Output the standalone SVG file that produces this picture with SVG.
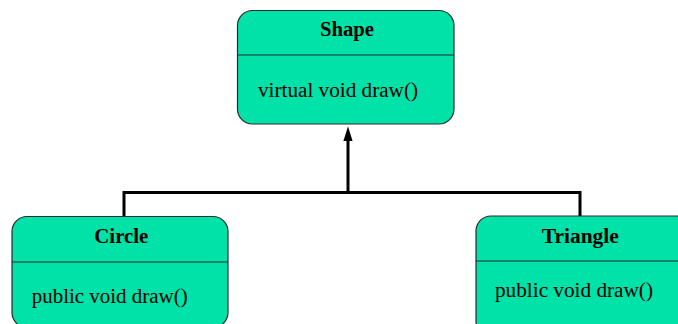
<svg xmlns="http://www.w3.org/2000/svg" width="678" height="324" viewBox="0 0 678 324">
  <style>
    .box { fill: #00e2a8; stroke: #2a2a2a; stroke-width: 1.2; }
    .div { stroke: #2a2a2a; stroke-width: 1.2; }
    .title { font-family: "Liberation Serif", "Times New Roman", serif; font-size: 20.5px; font-weight: bold; fill: #000; }
    .op { font-family: "Liberation Serif", "Times New Roman", serif; font-size: 20.5px; fill: #000; }
    .wire { fill: none; stroke: #000; stroke-width: 3; }
  </style>
  <rect width="678" height="324" fill="#fff"/>

  <!-- inheritance connectors -->
  <g id="connectors">
    <polyline class="wire" points="124,216 124,192.5 580,192.5 580,216"/>
    <line class="wire" x1="348" y1="192.5" x2="348" y2="140"/>
    <path d="M348,126.5 L352.6,141 L343.4,141 Z" fill="#000"/>
  </g>

  <g id="shape">
    <rect class="box" x="237.5" y="10.5" width="216.5" height="113.5" rx="15"/>
    <line class="div" x1="237.5" y1="55" x2="454" y2="55"/>
    <text class="title" x="347" y="35.5" text-anchor="middle" textLength="54" lengthAdjust="spacingAndGlyphs">Shape</text>
    <text class="op" x="258" y="97" textLength="160" lengthAdjust="spacingAndGlyphs">virtual void draw()</text>
  </g>

  <g id="circle">
    <rect class="box" x="12" y="216.5" width="216" height="111" rx="15"/>
    <line class="div" x1="12" y1="262" x2="228" y2="262"/>
    <text class="title" x="121.3" y="243" text-anchor="middle" textLength="54" lengthAdjust="spacingAndGlyphs">Circle</text>
    <text class="op" x="31.7" y="303" textLength="156" lengthAdjust="spacingAndGlyphs">public void draw()</text>
  </g>

  <g id="triangle">
    <rect class="box" x="476" y="216" width="216" height="120" rx="15"/>
    <line class="div" x1="476" y1="261" x2="692" y2="261"/>
    <text class="title" x="580.3" y="242.5" text-anchor="middle" textLength="77" lengthAdjust="spacingAndGlyphs">Triangle</text>
    <text class="op" x="495" y="296.7" textLength="158" lengthAdjust="spacingAndGlyphs">public void draw()</text>
  </g>
</svg>
